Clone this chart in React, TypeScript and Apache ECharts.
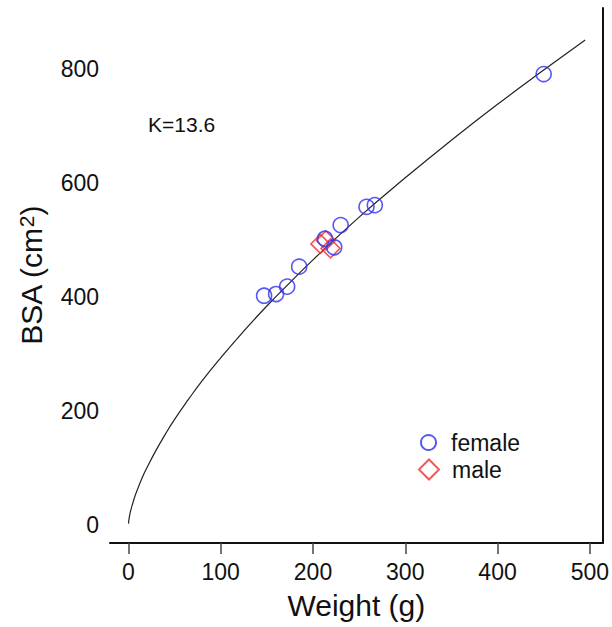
import React, { useEffect, useRef } from "react";
import * as echarts from "echarts";

// Fitted curve BSA = K * W^(2/3)
const CURVE_W = [0.05, 0.5, 1, 2, 4, 7, 10, 15, 20, 30, 40, 50, 65, 80, 100, 125, 150, 175, 200, 250, 300, 350, 400, 450, 495];
const CURVE_BSA = [2, 9, 14, 22, 34, 50, 63, 83, 100, 131, 159, 185, 220, 253, 293, 340, 384, 425, 465, 540, 609, 675, 738, 798, 851];

const FEMALE_W = [147, 160, 172, 185, 213, 223, 230, 258, 267, 450];
const FEMALE_BSA = [402, 405, 418, 453, 502, 487, 526, 558, 561, 791];

const MALE_W = [208, 214, 219];
const MALE_BSA = [493, 499, 485];

const X_TICKS = [0, 100, 200, 300, 400, 500];
const Y_TICKS = [0, 200, 400, 600, 800];

const K_LABEL = "K=13.6";

const FONT = "'Liberation Sans', Arial, Helvetica, sans-serif";
const BLUE = "#2e2ef0";
const RED = "#ec2f2f";
const INK = "#111111";

export default function App() {
  const ref = useRef<HTMLDivElement>(null);

  useEffect(() => {
    if (!ref.current) return;
    const chart = echarts.init(ref.current, undefined, { renderer: "svg" });
    const curve = CURVE_W.map((w, i) => [w, CURVE_BSA[i]]);
    const female = FEMALE_W.map((w, i) => [w, FEMALE_BSA[i]]);
    const male = MALE_W.map((w, i) => [w, MALE_BSA[i]]);

    chart.setOption({
      animation: false,
      backgroundColor: "#ffffff",
      textStyle: { fontFamily: FONT, color: INK },
      grid: { left: 110, right: 8, top: 8, bottom: 84, containLabel: false },
      xAxis: {
        type: "value",
        min: -20,
        max: 514,
        name: "Weight (g)",
        nameLocation: "middle",
        nameGap: 47,
        nameTextStyle: { fontSize: 30, color: INK, fontFamily: FONT },
        axisLine: { show: true, onZero: false, lineStyle: { color: INK, width: 2 } },
        axisTick: { show: true, customValues: X_TICKS, length: 11, lineStyle: { color: "#444", width: 1.5 } },
        axisLabel: { customValues: X_TICKS, fontSize: 23, color: INK, margin: 17, fontFamily: FONT },
        splitLine: { show: false },
      },
      yAxis: [
        {
          type: "value",
          min: -32,
          max: 907,
          name: "{base|BSA (cm}{sup|2}{base|)}",
          nameLocation: "middle",
          nameRotate: 90,
          nameGap: 64,
          nameTextStyle: {
            fontSize: 30,
            color: INK,
            fontFamily: FONT,
            rich: {
              base: { fontSize: 30, color: INK, fontFamily: FONT },
              sup: { fontSize: 21, color: INK, fontFamily: FONT, verticalAlign: "top" },
            },
          },
          axisLine: { show: false },
          axisTick: { show: false },
          axisLabel: { customValues: Y_TICKS, fontSize: 23, color: INK, margin: 11, fontFamily: FONT },
          splitLine: { show: false },
        },
        {
          type: "value",
          position: "right",
          min: -32,
          max: 907,
          axisLine: { show: true, onZero: false, lineStyle: { color: INK, width: 2 } },
          axisTick: { show: false },
          axisLabel: { show: false },
          splitLine: { show: false },
        },
      ],
      legend: [
        {
          data: ["female"],
          left: 420,
          top: 431,
          padding: 0,
          itemWidth: 15,
          itemHeight: 15,
          textStyle: { fontSize: 23, color: INK, fontFamily: FONT, padding: [0, 0, 0, 10] },
        },
        {
          data: ["male"],
          left: 418,
          top: 458,
          padding: 0,
          itemWidth: 20,
          itemHeight: 20,
          textStyle: { fontSize: 23, color: INK, fontFamily: FONT, padding: [0, 0, 0, 8] },
        },
      ],
      graphic: [
        {
          type: "text",
          left: 148,
          top: 114,
          style: { text: K_LABEL, fontSize: 21, fill: INK, fontFamily: FONT },
        },
      ],
      series: [
        {
          name: "fit",
          type: "line",
          data: curve,
          showSymbol: false,
          smooth: true,
          lineStyle: { color: "#222", width: 1.2 },
          silent: true,
          z: 1,
        },
        {
          name: "female",
          type: "scatter",
          data: female,
          symbol: "circle",
          symbolSize: 15,
          itemStyle: { color: "rgba(0,0,0,0)", borderColor: BLUE, borderWidth: 1.6 },
          z: 3,
        },
        {
          name: "male",
          type: "scatter",
          data: male,
          symbol: "diamond",
          symbolSize: 19,
          itemStyle: { color: "rgba(0,0,0,0)", borderColor: RED, borderWidth: 1.6 },
          z: 2,
        },
      ],
    });
    return () => chart.dispose();
  }, []);

  return (
    <div
      ref={ref}
      style={{ position: "fixed", left: 0, top: 0, width: 612, height: 627, background: "#fff" }}
    />
  );
}
